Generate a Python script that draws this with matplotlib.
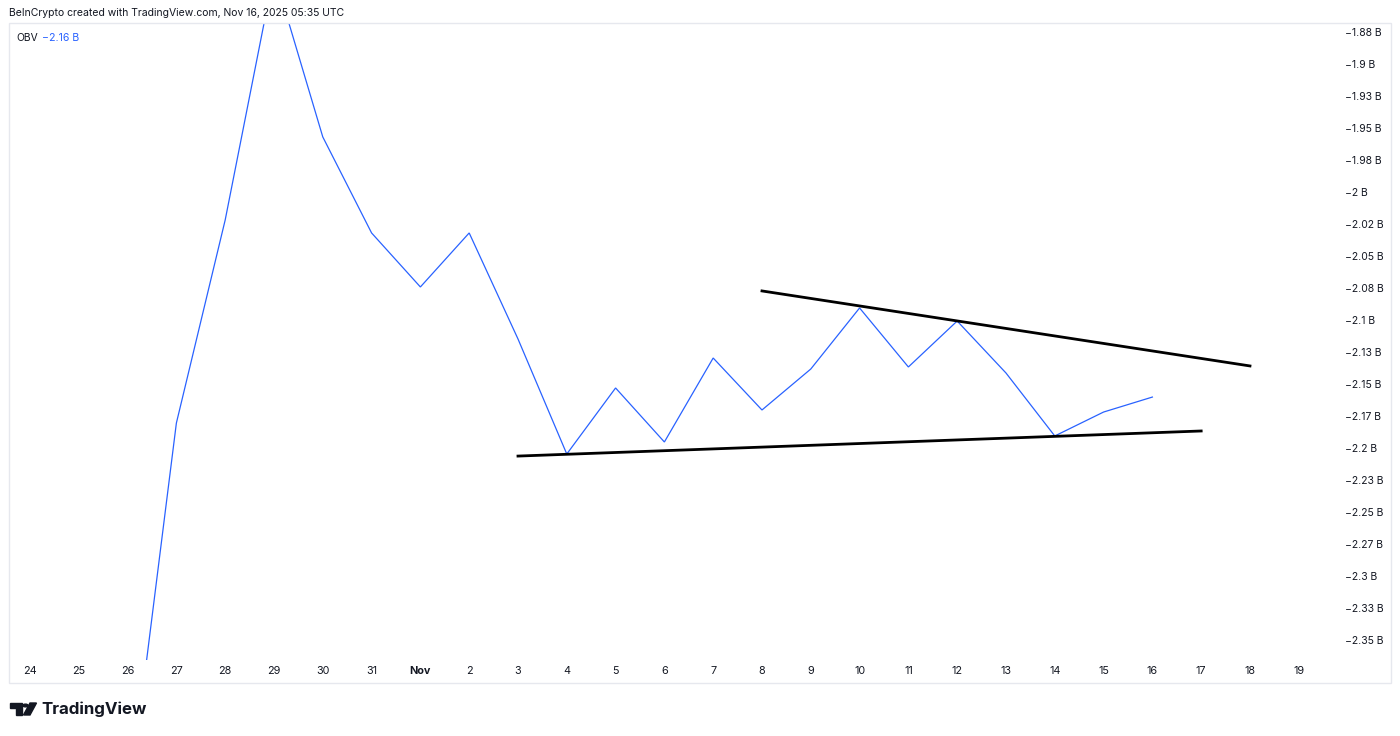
import matplotlib
matplotlib.use("Agg")
import matplotlib.pyplot as plt
from matplotlib.patches import Rectangle, Polygon, Circle

plt.rcParams['font.family'] = ['Inter', 'DejaVu Sans']

# --- data (OBV, billions) ---
day_labels = ['24', '25', '26', '27', '28', '29', '30', '31', 'Nov', '2', '3', '4', '5',
              '6', '7', '8', '9', '10', '11', '12', '13', '14', '15', '16', '17', '18', '19']
day_pos = list(range(len(day_labels)))

obv_days = [2, 3, 4, 5, 6, 7, 8, 9, 10, 11, 12, 13, 14, 15, 16, 17, 18, 19, 20, 21, 22, 23]
obv_vals = [-2.484, -2.1805, -2.0219, -1.8289, -1.957, -2.032, -2.0742, -2.032, -2.1148,
            -2.2047, -2.1531, -2.1953, -2.1297, -2.1703, -2.1383, -2.0906, -2.1367,
            -2.1008, -2.1414, -2.1906, -2.1719, -2.1602]

# trend lines drawn on the chart (start day, end day, values)
upper_days = [15, 25]
upper_vals = [-2.0773, -2.1359]
lower_days = [10, 24]
lower_vals = [-2.2063, -2.1867]

y_ticks = [-1.875, -1.9, -1.925, -1.95, -1.975, -2.0, -2.025, -2.05, -2.075, -2.1,
           -2.125, -2.15, -2.175, -2.2, -2.225, -2.25, -2.275, -2.3, -2.325, -2.35]
y_labels = ['−1.88 B', '−1.9 B', '−1.93 B', '−1.95 B', '−1.98 B', '−2 B', '−2.02 B',
            '−2.05 B', '−2.08 B', '−2.1 B', '−2.13 B', '−2.15 B', '−2.17 B', '−2.2 B',
            '−2.23 B', '−2.25 B', '−2.27 B', '−2.3 B', '−2.33 B', '−2.35 B']

W, H = 1400, 736
fig = plt.figure(figsize=(W / 100, H / 100), dpi=100)
fig.patch.set_facecolor('white')

def fx(px):
    return px / W

def fy(py):
    return 1 - py / H

# plot pane
ax = fig.add_axes([fx(9), fy(660), (1310 - 9) / W, (660 - 23) / H])
ax.set_facecolor('white')
for s in ax.spines.values():
    s.set_visible(False)

ax.plot(obv_days, obv_vals, color='#2962FF', lw=0.9, solid_joinstyle='miter')
ax.plot(upper_days, upper_vals, color='black', lw=2)
ax.plot(lower_days, lower_vals, color='black', lw=2)

ax.set_xlim(-0.43, 26.23)
ax.set_ylim(-2.3656, -1.868)

ax.set_xticks(day_pos, day_labels)
ax.set_yticks(y_ticks, y_labels)
ax.yaxis.tick_right()
ax.tick_params(axis='x', length=0, pad=4.5, labelsize=7.8, labelcolor='#131722')
ax.tick_params(axis='y', length=0, pad=25.2, labelsize=7.5, labelcolor='#131722')
for lbl in ax.get_xticklabels():
    lbl.set_horizontalalignment('center')
    if lbl.get_text() == 'Nov':
        lbl.set_fontweight('bold')
for lbl in ax.get_yticklabels():
    lbl.set_horizontalalignment('left')

# outer frame
fig.patches.append(Rectangle((fx(9), fy(683)), (1391 - 9) / W, (683 - 23) / H,
                             transform=fig.transFigure, fill=False,
                             edgecolor='#e6e8ee', lw=1))

# header texts
fig.text(fx(9), fy(13), 'BeInCrypto created with TradingView.com, Nov 16, 2025 05:35 UTC',
         fontsize=7.5, color='#131722', va='center', ha='left')
fig.text(fx(16), fy(38), 'OBV', fontsize=7.4, color='#131722', va='center', ha='left')
fig.text(fx(42), fy(38), '−2.16 B', fontsize=7.6, color='#2962FF', va='center', ha='left')

# TradingView logo
logo_col = '#131722'
fig.patches.append(Polygon([(fx(10), fy(703)), (fx(22), fy(703)), (fx(22), fy(715)),
                            (fx(16), fy(715)), (fx(16), fy(708)), (fx(10), fy(708))],
                           closed=True, transform=fig.transFigure, color=logo_col))
fig.patches.append(Circle((fx(25.5), fy(705.5)), 2.6 / W, transform=fig.transFigure,
                          color=logo_col))
fig.patches.append(Polygon([(fx(30), fy(703)), (fx(36.5), fy(703)), (fx(30), fy(715)),
                            (fx(23.5), fy(715))],
                           closed=True, transform=fig.transFigure, color=logo_col))
fig.text(fx(41), fy(709.5), 'TradingView', fontsize=12.2, fontweight='bold',
         color=logo_col, va='center', ha='left')

fig.savefig('out.png', dpi=100, facecolor='white')
